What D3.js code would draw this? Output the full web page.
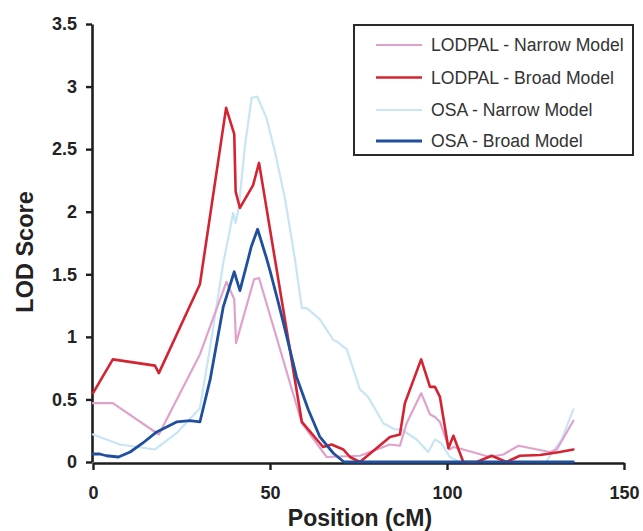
<!DOCTYPE html>
<html>
<head>
<meta charset="utf-8">
<script src="https://cdn.jsdelivr.net/npm/d3@7"></script>
<style>
  html, body { margin: 0; padding: 0; background: #fff; }
  svg { display: block; font-family: "Liberation Sans", Arial, sans-serif; }
</style>
</head>
<body>
<svg id="chart" width="643" height="531"></svg>
<script>
// ---------- data ----------
const seriesNames = ["LODPAL - Narrow Model", "LODPAL - Broad Model", "OSA - Narrow Model", "OSA - Broad Model"];

const lodpalNarrowPos = [0, 5.6, 18.6, 30.2, 37.7, 39.9, 40.4, 45.5, 46.9, 59, 66, 75.4, 83.9, 86.7, 88.6, 92.7, 95.2, 96.6, 98, 100.7, 101.8, 104.6, 112.1, 115.9, 120.2, 129.1, 131, 135.7];
const lodpalNarrowLod = [0.47, 0.47, 0.22, 0.86, 1.44, 1.30, 0.95, 1.46, 1.47, 0.31, 0.04, 0.05, 0.14, 0.13, 0.31, 0.55, 0.38, 0.36, 0.32, 0.10, 0.12, 0.10, 0.04, 0.06, 0.13, 0.08, 0.10, 0.33];

const lodpalBroadPos = [0, 5.6, 17.5, 18.6, 30.2, 37.6, 39.9, 40.3, 41.5, 45.2, 46.9, 59, 65, 67.4, 70.7, 72.6, 75.4, 83.9, 86.7, 88.1, 92.7, 95.2, 96.6, 98, 100.4, 101.8, 104.6, 108.4, 112.6, 116.8, 120.6, 126.3, 131.9, 135.7];
const lodpalBroadLod = [0.55, 0.82, 0.77, 0.71, 1.42, 2.83, 2.62, 2.16, 2.03, 2.21, 2.39, 0.32, 0.12, 0.14, 0.10, 0.04, 0.0, 0.20, 0.22, 0.47, 0.82, 0.60, 0.60, 0.52, 0.11, 0.21, 0.0, 0.0, 0.05, 0.0, 0.05, 0.056, 0.08, 0.10];

const osaNarrowPos = [0, 7.6, 17.5, 23.6, 30.2, 33.1, 36.8, 39.6, 40.3, 41.2, 42.9, 44.8, 46.4, 49, 51.4, 54.2, 57, 59, 60.4, 64.1, 67.9, 69, 71.7, 75.4, 77.7, 82, 85.3, 87.2, 91.4, 94.7, 96.6, 98.4, 100.8, 103.6, 128, 129.1, 132.4, 135.7];
const osaNarrowLod = [0.22, 0.14, 0.10, 0.23, 0.43, 0.92, 1.59, 1.99, 1.91, 2.04, 2.52, 2.91, 2.92, 2.75, 2.48, 2.11, 1.63, 1.23, 1.23, 1.14, 0.975, 0.96, 0.90, 0.58, 0.52, 0.31, 0.26, 0.26, 0.18, 0.08, 0.18, 0.15, 0.04, 0.0, 0.0, 0.05, 0.18, 0.42];

const osaBroadPos = [0, 1.9, 3.8, 7.2, 10.5, 14, 18, 23.6, 27.4, 30.2, 33.1, 36.8, 39.9, 41.5, 43.9, 44.7, 46.5, 49, 50, 52.3, 53.8, 57.5, 60.8, 64.1, 67.9, 70.9, 135.7];
const osaBroadLod = [0.064, 0.064, 0.05, 0.04, 0.08, 0.15, 0.24, 0.32, 0.33, 0.32, 0.66, 1.24, 1.52, 1.37, 1.63, 1.72, 1.86, 1.63, 1.53, 1.28, 1.11, 0.68, 0.42, 0.20, 0.07, 0.0, 0.0];

const xTicks = [0, 50, 100, 150];
const yTicks = [0, 0.5, 1, 1.5, 2, 2.5, 3, 3.5];
const yTickLabels = ["0", "0.5", "1", "1.5", "2", "2.5", "3", "3.5"];

// ---------- layout ----------
const svg = d3.select("#chart");
const plotLeft = 93, plotRight = 624, plotTop = 24, plotBottom = 462;

const x = d3.scaleLinear().domain([0, 150]).range([plotLeft, plotRight]);
const y = d3.scaleLinear().domain([0, 3.5]).range([plotBottom, plotTop]);

const axisColor = "#1e1e1e";

// x axis
const gx = svg.append("g").attr("transform", `translate(0,${plotBottom + 1})`)
  .call(d3.axisBottom(x).tickValues(xTicks).tickSize(7).tickPadding(16).tickSizeOuter(0));
gx.select(".domain").attr("stroke", axisColor).attr("stroke-width", 2.6);
gx.selectAll(".tick line").attr("stroke", axisColor).attr("stroke-width", 2.4);
gx.selectAll(".tick text").attr("fill", "#222").attr("font-size", 18).attr("font-weight", "bold");

// y axis
const gy = svg.append("g").attr("transform", `translate(${plotLeft - 1},0)`)
  .call(d3.axisLeft(y).tickValues(yTicks).tickFormat((d, i) => yTickLabels[i]).tickSize(6).tickPadding(9).tickSizeOuter(0));
gy.select(".domain").attr("stroke", axisColor).attr("stroke-width", 2.6);
gy.selectAll(".tick line").attr("stroke", axisColor).attr("stroke-width", 2.4);
gy.selectAll(".tick text").attr("fill", "#222").attr("font-size", 18).attr("font-weight", "bold");

// axis titles
svg.append("text").attr("x", 360).attr("y", 526).attr("text-anchor", "middle")
  .attr("font-size", 23).attr("font-weight", "bold").attr("fill", "#222")
  .text("Position (cM)");
svg.append("text").attr("transform", "translate(33,252) rotate(-90)").attr("text-anchor", "middle")
  .attr("font-size", 23.5).attr("font-weight", "bold").attr("fill", "#222")
  .text("LOD Score");

// ---------- lines ----------
const colors = ["#e0a2ca", "#d42432", "#c8e5f5", "#1f4f9d"];
const widths = [2.2, 2.6, 2.2, 2.8];
const series = [
  { pos: osaNarrowPos, lod: osaNarrowLod, c: 2 },
  { pos: lodpalNarrowPos, lod: lodpalNarrowLod, c: 0 },
  { pos: lodpalBroadPos, lod: lodpalBroadLod, c: 1 },
  { pos: osaBroadPos, lod: osaBroadLod, c: 3 }
];
const line = d3.line().x(d => x(d[0])).y(d => y(d[1])).curve(d3.curveLinear);
series.forEach(s => {
  const pts = s.pos.map((p, i) => [p, s.lod[i]]);
  svg.append("path").datum(pts).attr("d", line)
    .attr("fill", "none").attr("stroke", colors[s.c]).attr("stroke-width", widths[s.c])
    .attr("stroke-linejoin", "round").attr("stroke-linecap", "round");
});

// ---------- legend ----------
const lg = svg.append("g");
lg.append("rect").attr("x", 354).attr("y", 25).attr("width", 279).attr("height", 130)
  .attr("fill", "#fff").attr("stroke", "#2a2a2a").attr("stroke-width", 2);
const rowY = [45, 77.5, 110, 141];
seriesNames.forEach((name, i) => {
  lg.append("line").attr("x1", 376).attr("x2", 422).attr("y1", rowY[i]).attr("y2", rowY[i])
    .attr("stroke", colors[i]).attr("stroke-width", widths[i]);
  lg.append("text").attr("x", 431).attr("y", rowY[i] + 6).attr("font-size", 17.6)
    .attr("fill", "#333").text(name);
});
</script>
</body>
</html>
